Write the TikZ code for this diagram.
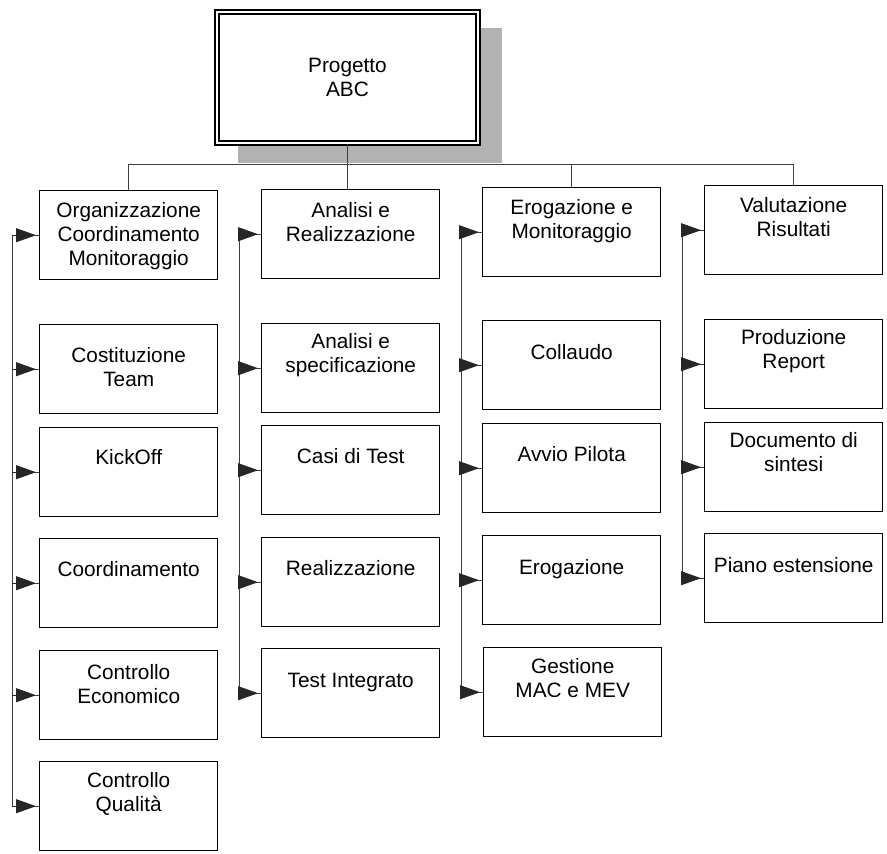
\documentclass[tikz,border=0pt]{standalone}
\usepackage{fontspec}
\setmainfont{Liberation Sans}
\usetikzlibrary{arrows.meta}
\begin{document}
\begin{tikzpicture}[x=1pt,y=-1pt]
\tikzset{
 box/.style={draw=black, line width=1.4pt, fill=white, minimum width=178pt, minimum height=89pt, inner sep=0pt, anchor=north west},
 lbl/.style={font=\fontsize{20.8}{24}\selectfont, align=center, anchor=north, inner sep=0pt},
 conn/.style={draw=black!75, line width=0.9pt},
 arr/.style={draw=black!85, line width=0.9pt, -{Triangle[length=20pt,width=14pt]}, shorten >=3pt},
 topbox/.style={draw=black, double=white, double distance=2.6pt, line width=1.3pt, minimum width=261pt, minimum height=131pt, inner sep=0pt, align=center, font=\fontsize{20.8}{24}\selectfont}
}
\newcommand\wbsbox[5]{%
 \node[box] (#1) at (#2,#3) {};
 \node[lbl] (#1t) at ([yshift=-#4pt]#1.north) {#5};
}
\useasboundingbox (0,0) rectangle (887,854);
% top box with shadow
\fill[black!30] (238,28) rectangle (502,163);
\node[topbox, fill=white] (top) at (347.5,77.5) {Progetto\\ABC};
% column 1
\wbsbox{a0}{39}{190}{12.5}{Organizzazione\\Coordinamento\\Monitoraggio}
\wbsbox{a1}{39}{324}{23.5}{Costituzione\\Team}
\wbsbox{a2}{39}{427}{22.5}{KickOff}
\wbsbox{a3}{39}{538}{23.5}{Coordinamento}
\wbsbox{a4}{39}{650}{14.5}{Controllo\\Economico}
\wbsbox{a5}{39}{761}{11.5}{Controllo\\Qualit\`a}
% column 2
\wbsbox{b0}{261}{189}{13.5}{Analisi e\\Realizzazione}
\wbsbox{b1}{261}{323}{10.5}{Analisi e\\specificazione}
\wbsbox{b2}{261}{425}{23.5}{Casi di Test}
\wbsbox{b3}{261}{537}{23.5}{Realizzazione}
\wbsbox{b4}{261}{648}{24.5}{Test Integrato}
% column 3
\wbsbox{c0}{482}{187}{12.5}{Erogazione e\\Monitoraggio}
\wbsbox{c1}{482}{320}{24.5}{Collaudo}
\wbsbox{c2}{482}{423}{23.5}{Avvio Pilota}
\wbsbox{c3}{482}{535}{24.5}{Erogazione}
\wbsbox{c4}{483}{647}{11.5}{Gestione\\MAC e MEV}
% column 4
\wbsbox{d0}{704}{185}{12.5}{Valutazione\\Risultati}
\wbsbox{d1}{704}{319}{10.5}{Produzione\\Report}
\wbsbox{d2}{704}{422}{10.5}{Documento di\\sintesi}
\wbsbox{d3}{704}{533}{24.5}{Piano estensione}
% bus
\coordinate (bus) at (0,164);
\coordinate (L1) at (12,0);
\coordinate (L2) at (239,0);
\coordinate (L3) at (461,0);
\coordinate (L4) at (682,0);
\draw[conn] (top.south) -- (top.south |- b0.north);
\draw[conn] (a0.north) -- (a0.north |- bus) -- (d0.north |- bus) -- (d0.north);
\draw[conn] (c0.north |- bus) -- (c0.north);
% vertical spines
\draw[conn] (a0.west -| L1) -- (a5.west -| L1);
\draw[conn] (b0.west -| L2) -- (b4.west -| L2);
\draw[conn] (c0.west -| L3) -- (c4.west -| L3);
\draw[conn] (d0.west -| L4) -- (d3.west -| L4);
% arrows
\foreach \n in {a0,a1,a2,a3,a4,a5}{
 \draw[conn] (\n.west -| L1) -- (\n.west);
 \draw[arr] (\n.west -| L1) -- (\n.west);}
\foreach \n in {b0,b1,b2,b3,b4}{
 \draw[conn] (\n.west -| L2) -- (\n.west);
 \draw[arr] (\n.west -| L2) -- (\n.west);}
\foreach \n in {c0,c1,c2,c3,c4}{
 \draw[conn] (\n.west -| L3) -- (\n.west);
 \draw[arr] (\n.west -| L3) -- (\n.west);}
\foreach \n in {d0,d1,d2,d3}{
 \draw[conn] (\n.west -| L4) -- (\n.west);
 \draw[arr] (\n.west -| L4) -- (\n.west);}
\end{tikzpicture}
\end{document}
